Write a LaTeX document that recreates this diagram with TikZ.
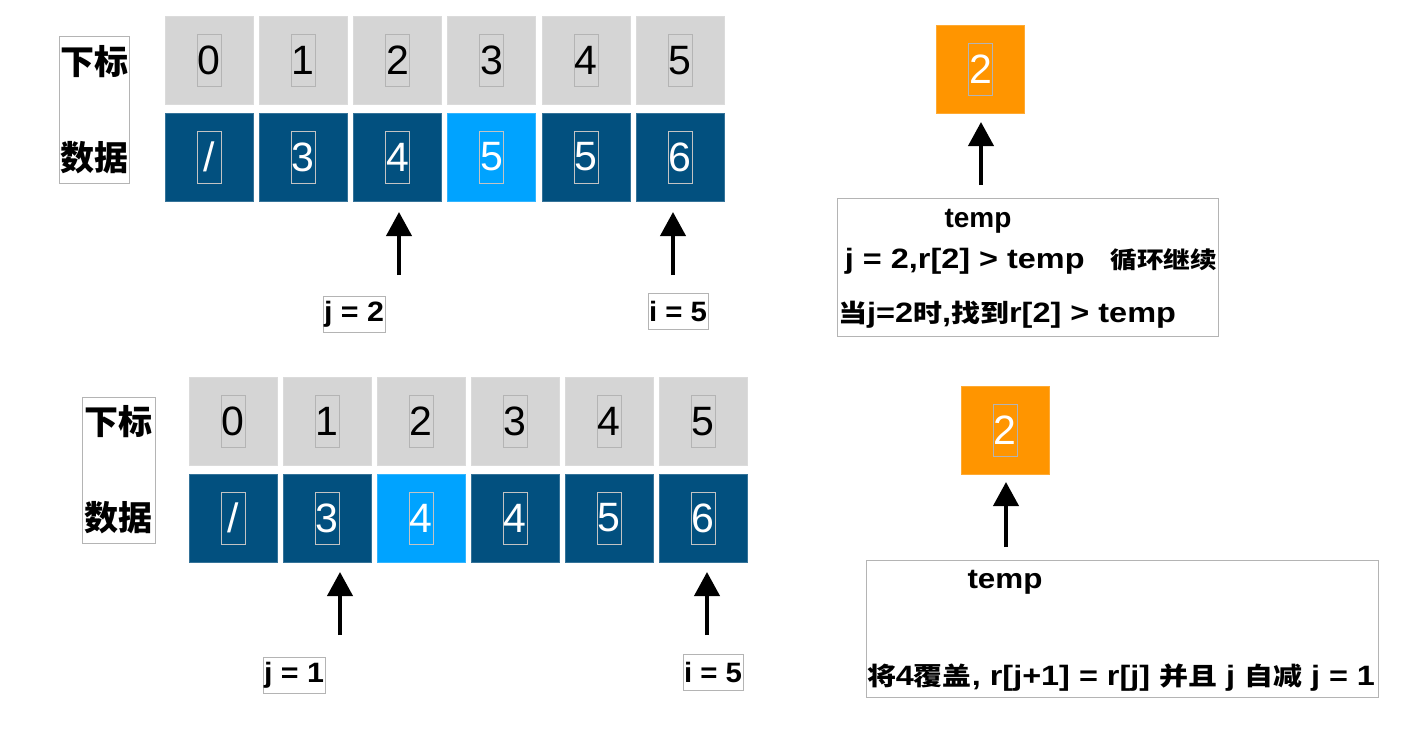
\documentclass[tikz,border=0pt]{standalone}
\usepackage{fontspec}
\usepackage{graphicx}
\setmainfont{Liberation Sans}
\newfontfamily\cjk{Noto Sans CJK SC}
\usetikzlibrary{arrows.meta}
\definecolor{cellgray}{HTML}{D5D5D5}
\definecolor{dblue}{HTML}{02507F}
\definecolor{lblue}{HTML}{00A3FF}
\definecolor{orng}{HTML}{FF9500}
\definecolor{edgegray}{HTML}{B4B4B4}
\newcommand{\fitto}[2]{\resizebox{#1}{\height}{#2}}
\newcommand{\zh}[1]{{\cjk\fontsize{25}{25}\selectfont #1}}
\tikzset{
  cellbox/.style={minimum width=88pt, minimum height=88pt, inner sep=0pt, outer sep=0pt},
  idxcell/.style={cellbox, fill=cellgray, draw=cellgray!85!white, line width=0.6pt},
  datcell/.style={cellbox, fill=dblue, draw=dblue!80!white, line width=0.6pt},
  hotcell/.style={cellbox, fill=lblue, draw=lblue!80!white, line width=0.6pt},
  tmpcell/.style={cellbox, fill=orng, draw=orng!80!white, line width=0.6pt},
  digit/.style={draw=edgegray, line width=0.6pt, minimum width=24pt, minimum height=52pt, inner sep=0pt, font=\fontsize{41}{41}\selectfont},
  frame/.style={draw=edgegray, line width=0.8pt, inner sep=0pt},
  rowlabel/.style={inner sep=0pt, font=\fontsize{34}{34}\selectfont\bfseries\cjk},
  ptr/.style={frame, minimum height=36pt, font=\fontsize{28}{28}\selectfont\bfseries},
  note/.style={inner sep=0pt, font=\fontsize{28}{28}\selectfont\bfseries},
  arr/.style={line width=4pt, -{Triangle[width=25pt,length=24pt]}}
}
\begin{document}
\begin{tikzpicture}[x=1pt, y=-1pt]
\useasboundingbox (0,0) rectangle (1422,748);
% ---------- top group ----------
\node[frame, minimum width=70pt, minimum height=147pt] (lab1) at (94,109.5) {};
\node[rowlabel] (lab1a) at (94,62) {下标};
\node[rowlabel] (lab1b) at (94,158) {数据};
\foreach \k/\v/\s in {0/{/}/datcell,1/3/datcell,2/4/datcell,3/5/hotcell,4/5/datcell,5/6/datcell}{
  \node[idxcell] (ta\k) at (209+\k*94.2,60.5) {};
  \node[digit] (tad\k) at (ta\k) {\k};
  \node[\s] (tb\k) at (209+\k*94.2,157) {};
  \node[digit, text=white, draw=edgegray!80!white] (tbd\k) at (tb\k) {\v};
}
\coordinate (tj1) at (399,275); \coordinate (tj2) at (399,212);
\coordinate (ti1) at (673,275); \coordinate (ti2) at (673,212);
\draw[arr] (tj1) -- (tj2);
\draw[arr] (ti1) -- (ti2);
\node[ptr, minimum width=62pt] (tjl) at (354,314) {\fitto{60pt}{j = 2}};
\node[ptr, minimum width=60pt] (til) at (678,311) {\fitto{58pt}{i = 5}};
\node[tmpcell] (tt) at (980.5,69) {};
\node[digit, text=white] (ttd) at (tt) {2};
\node[frame, minimum width=381pt, minimum height=138pt] (tbox) at (1027.5,267) {};
\coordinate (ta1) at (981,185); \coordinate (ta2) at (981,122);
\draw[arr] (ta1) -- (ta2);
\node[note] (tn1) at (978,221) {temp};
\node[note] (tn2) at (1031,261) {\fitto{372pt}{j = 2,r[2] > temp\hspace{0.8em}{\cjk\fontsize{23}{23}\selectfont 循环继续}}};
\node[note] (tn3) at (1007,315) {\fitto{338pt}{\zh{当}j=2\zh{时},\zh{找到}r[2] > temp}};
% ---------- bottom group ----------
\node[frame, minimum width=73pt, minimum height=146pt] (lab2) at (118.5,470) {};
\node[rowlabel] (lab2a) at (118.5,422) {下标};
\node[rowlabel] (lab2b) at (118.5,518) {数据};
\foreach \k/\v/\s in {0/{/}/datcell,1/3/datcell,2/4/hotcell,3/4/datcell,4/5/datcell,5/6/datcell}{
  \node[idxcell] (ba\k) at (233+\k*94,421.5) {};
  \node[digit] (bad\k) at (ba\k) {\k};
  \node[\s] (bb\k) at (233+\k*94,518) {};
  \node[digit, text=white, draw=edgegray!80!white] (bbd\k) at (bb\k) {\v};
}
\coordinate (bj1) at (340,635); \coordinate (bj2) at (340,572);
\coordinate (bi1) at (707,635); \coordinate (bi2) at (707,572);
\draw[arr] (bj1) -- (bj2);
\draw[arr] (bi1) -- (bi2);
\node[ptr, minimum width=62pt] (bjl) at (294,675) {\fitto{60pt}{j = 1}};
\node[ptr, minimum width=60pt] (bil) at (713,672) {\fitto{58pt}{i = 5}};
\node[tmpcell] (bt) at (1005,430.5) {};
\node[digit, text=white] (btd) at (bt) {2};
\node[frame, minimum width=512pt, minimum height=137pt] (bbox) at (1122,628.5) {};
\coordinate (ba1) at (1006,547); \coordinate (ba2) at (1006,482);
\draw[arr] (ba1) -- (ba2);
\node[note] (bn1) at (1005,582) {\fitto{75pt}{temp}};
\node[note] (bn2) at (1121,678) {\fitto{508pt}{\zh{将}4\zh{覆盖}, r[j+1] = r[j] \zh{并且} j \zh{自减} j = 1}};
\end{tikzpicture}
\end{document}
